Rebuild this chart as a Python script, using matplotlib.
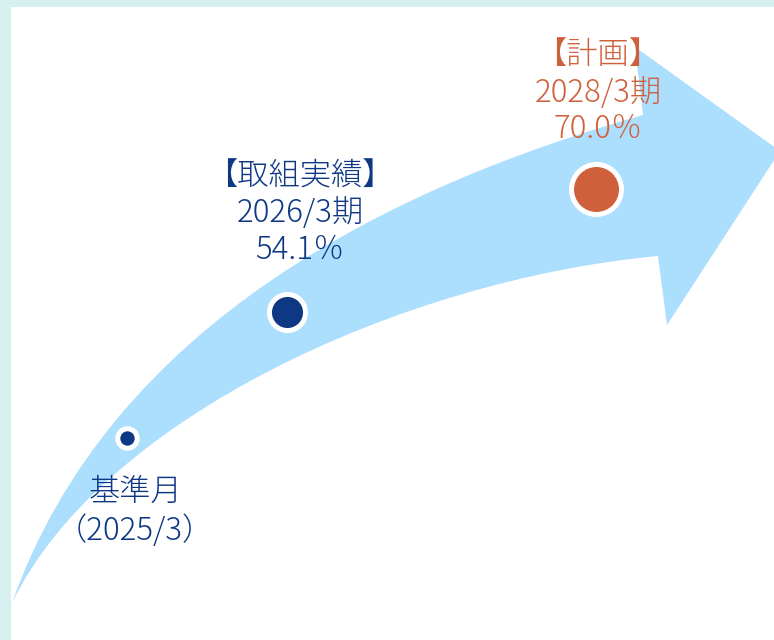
import matplotlib.pyplot as plt
from matplotlib.path import Path
from matplotlib.patches import PathPatch, Rectangle

plt.rcParams['font.family'] = ['Noto Sans CJK JP', 'DejaVu Sans']

# chart content
headers = ['基準月', '【取組実績】', '【計画】']
periods = ['（2025/3）', '2026/3期', '2028/3期']
rates = [None, 54.1, 70.0]

# layout (pixel coordinates, y downward)
dot_x = [127, 287, 596]
dot_y = [438, 312, 189]
dot_ms = [14, 26, 36]
label_x = [135, 300, 598]
label_y = [[492, 531], [177, 213, 250], [55, 93, 129]]

navy = '#0e3784'
orange = '#d0603b'
colors = [navy, navy, orange]
arrow_blue = '#acdefe'
frame = '#d6f0f0'

fig = plt.figure(figsize=(7.74, 6.4), dpi=100)
fig.patch.set_facecolor(frame)
ax = fig.add_axes([0, 0, 1, 1])
ax.set_xlim(0, 774)
ax.set_ylim(640, 0)
ax.axis('off')

ax.add_patch(Rectangle((11, 7), 774, 640, facecolor='white', edgecolor='none', zorder=0))

# curved arrow
verts = [(12, 603),
         (111, 323), (393, 186), (643, 115),   # upper edge
         (635, 47), (780, 151), (667, 325), (658, 256),   # head
         (400, 280), (100, 420), (12, 603),    # lower edge
         (12, 603)]
codes = [Path.MOVETO,
         Path.CURVE4, Path.CURVE4, Path.CURVE4,
         Path.LINETO, Path.LINETO, Path.LINETO, Path.LINETO,
         Path.CURVE4, Path.CURVE4, Path.CURVE4,
         Path.CLOSEPOLY]
ax.add_patch(PathPatch(Path(verts, codes), facecolor=arrow_blue, edgecolor='none', zorder=1))

# milestone dots
for x, y, ms, c in zip(dot_x, dot_y, dot_ms, colors):
    ax.plot(x, y, 'o', ms=ms, color=c, mec='white', mew=3.6, zorder=3)

# labels
for i in range(3):
    lines = [headers[i], periods[i]]
    if rates[i] is not None:
        lines.append(f'{rates[i]:.1f}％')
    for text, y in zip(lines, label_y[i]):
        ax.text(label_x[i], y, text, ha='center', va='center', fontsize=22.5,
                fontweight='light', color=colors[i], zorder=4)

fig.savefig('out.png', dpi=100, facecolor=frame)
